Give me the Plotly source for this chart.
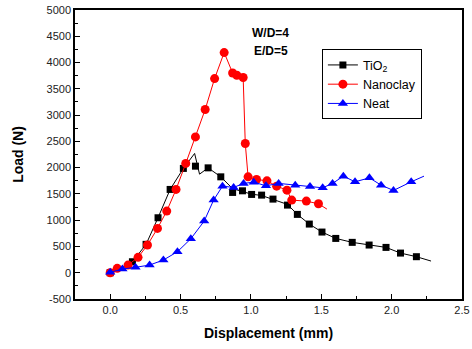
import plotly.graph_objects as go

# ---------------- data ----------------
# TiO2: sampled markers
tio2_mark_x = [0.0, 0.158, 0.255, 0.34, 0.426, 0.52, 0.606, 0.696, 0.786, 0.87, 0.94, 1.005,
               1.076, 1.157, 1.26, 1.33, 1.415, 1.505, 1.603, 1.72, 1.84, 1.96, 2.063, 2.176]
tio2_mark_y = [0, 209, 540, 1046, 1585, 1985, 2028, 1996, 1825, 1528, 1559, 1490,
               1477, 1401, 1287, 1110, 926, 774, 653, 578, 527, 482, 374, 305]
# TiO2: continuous curve
tio2_line_x = [0.0, 0.08, 0.158, 0.255, 0.34, 0.426, 0.52, 0.60, 0.635, 0.696, 0.786, 0.87,
               0.94, 1.005, 1.076, 1.157, 1.26, 1.33, 1.415, 1.505, 1.603, 1.72, 1.84, 1.96,
               2.063, 2.176, 2.28]
tio2_line_y = [0, 80, 209, 540, 1046, 1585, 1985, 2270, 1876, 1996, 1825, 1600,
               1545, 1495, 1470, 1400, 1300, 1110, 926, 774, 653, 578, 527, 482,
               374, 305, 222]

# Nanoclay
nano_mark_x = [0.0, 0.05, 0.127, 0.198, 0.265, 0.336, 0.402, 0.468, 0.537, 0.606, 0.675,
               0.742, 0.81, 0.87, 0.90, 0.945, 0.96, 0.98, 1.04, 1.114, 1.183, 1.256, 1.29,
               1.394, 1.48]
nano_mark_y = [0, 83, 146, 293, 527, 844, 1173, 1585, 2080, 2585, 3106,
               3695, 4190, 3802, 3758, 3715, 2460, 1825, 1775, 1749, 1648, 1572, 1382,
               1363, 1312]
nano_line_x = nano_mark_x + [1.54]
nano_line_y = nano_mark_y + [1211]

# Neat
neat_mark_x = [0.0, 0.087, 0.18, 0.28, 0.378, 0.478, 0.573, 0.668, 0.735, 0.798, 0.877, 0.948,
               1.02, 1.107, 1.197, 1.315, 1.42, 1.51, 1.58, 1.657, 1.74, 1.842, 1.925, 2.013,
               2.139]
neat_mark_y = [8, 70, 103, 146, 241, 400, 646, 983, 1382, 1648, 1623, 1700,
               1724, 1654, 1700, 1667, 1642, 1616, 1699, 1838, 1730, 1806, 1667, 1566,
               1730]
neat_line_x = neat_mark_x + [2.23]
neat_line_y = neat_mark_y + [1838]

series_names = ["TiO<sub>2</sub>", "Nanoclay", "Neat"]
colors = ["#000000", "#ff0000", "#0000ff"]
symbols = ["square", "circle", "triangle-up"]
sizes = [7, 9, 9]

x_ticks = [0.0, 0.5, 1.0, 1.5, 2.0, 2.5]
y_ticks = list(range(-500, 5001, 500))

fig = go.Figure()
lines = [(tio2_line_x, tio2_line_y), (nano_line_x, nano_line_y), (neat_line_x, neat_line_y)]
marks = [(tio2_mark_x, tio2_mark_y), (nano_mark_x, nano_mark_y), (neat_mark_x, neat_mark_y)]

for i in range(3):
    lx, ly = lines[i]
    mx, my = marks[i]
    fig.add_trace(go.Scatter(x=lx, y=ly, mode="lines", line=dict(color=colors[i], width=1),
                             showlegend=False, hoverinfo="skip"))
    fig.add_trace(go.Scatter(x=mx, y=my, mode="markers",
                             marker=dict(symbol=symbols[i], size=sizes[i], color=colors[i]),
                             showlegend=False))
for i in range(3):
    fig.add_trace(go.Scatter(x=[None], y=[None], mode="lines+markers", name=series_names[i],
                             line=dict(color=colors[i], width=1),
                             marker=dict(symbol=symbols[i], size=sizes[i], color=colors[i])))

axis_common = dict(showline=True, linecolor="black", linewidth=1.5, mirror=True,
                   ticks="inside", ticklen=5, tickwidth=1, tickcolor="black",
                   showgrid=False, zeroline=False, automargin=False,
                   tickfont=dict(family="Arial, Liberation Sans", size=11, color="#222"),
                   minor=dict(ticks="inside", ticklen=3, tickwidth=1, tickcolor="black"))

fig.update_xaxes(range=[-0.25, 2.5], tickvals=x_ticks, ticktext=[f"{v:.1f}" for v in x_ticks],
                 title=dict(text="<b>Displacement (mm)</b>", standoff=13,
                            font=dict(family="Arial, Liberation Sans", size=14, color="black")),
                 minor_dtick=0.25, minor_tick0=0, **axis_common)
fig.update_yaxes(range=[-500, 5000], tickvals=y_ticks, ticktext=[str(v) for v in y_ticks],
                 title=dict(text="<b>Load (N)</b>", standoff=20,
                            font=dict(family="Arial, Liberation Sans", size=14, color="black")),
                 minor_dtick=250, minor_tick0=0, **axis_common)

fig.add_annotation(x=1.142, y=4560, xref="x", yref="y", text="<b>W/D=4</b>", showarrow=False,
                   font=dict(family="Arial, Liberation Sans", size=12, color="black"))
fig.add_annotation(x=1.142, y=4220, xref="x", yref="y", text="<b>E/D=5</b>", showarrow=False,
                   font=dict(family="Arial, Liberation Sans", size=12, color="black"))

fig.update_layout(
    width=472, height=349,
    margin=dict(l=75, r=10, t=10, b=50),
    paper_bgcolor="white", plot_bgcolor="white",
    font=dict(family="Arial, Liberation Sans"),
    legend=dict(x=0.638, y=0.864, xanchor="left", yanchor="top",
                bordercolor="black", borderwidth=1, bgcolor="white",
                font=dict(family="Arial, Liberation Sans", size=12.5, color="black"),
                tracegroupgap=0, itemwidth=30),
)

fig.write_html("out.html", config={"displayModeBar": False},
               post_script="document.body.style.margin='0px';document.body.style.overflow='hidden';")
